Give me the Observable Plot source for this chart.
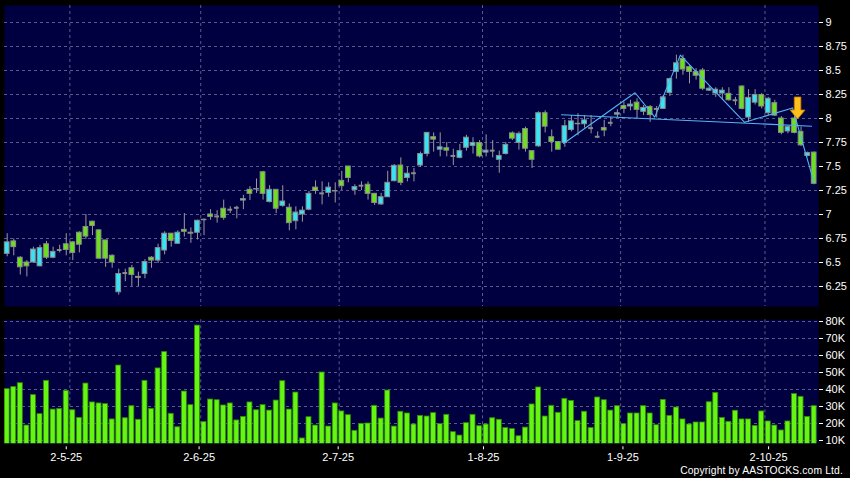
<!DOCTYPE html>
<html><head><meta charset="utf-8">
<script src="https://cdn.jsdelivr.net/npm/d3@7"></script>
<script src="https://cdn.jsdelivr.net/npm/@observablehq/plot@0.6"></script>
<style>
html,body{margin:0;padding:0;background:#000;}
#chart{position:relative;width:850px;height:478px;background:#000;overflow:hidden;font-family:"Liberation Sans",Arial,sans-serif;}
#chart svg{position:absolute;left:0;}
#copy{position:absolute;right:7px;top:465px;color:#fff;font-size:10.3px;letter-spacing:0.15px;white-space:nowrap;}
</style></head><body><div id="chart"><div id="copy">Copyright by AASTOCKS.com Ltd.</div></div>
<script>
// ---- data (index = trading day) ----
const open  = [6.59,6.72,6.55,6.50,6.50,6.46,6.69,6.55,6.63,6.69,6.71,6.81,6.87,6.925,6.835,6.73,6.57,6.19,6.39,6.44,
6.34,6.38,6.55,6.52,6.625,6.80,6.695,6.84,6.80,6.81,6.94,7.00,6.98,7.06,7.05,7.07,7.145,7.257,7.26,7.44,
7.13,7.257,7.09,7.07,6.93,7.00,7.05,7.28,7.22,7.225,7.24,7.35,7.50,7.255,7.30,7.31,7.215,7.105,7.18,7.347,
7.51,7.38,7.43,7.51,7.63,7.805,7.675,7.69,7.61,7.59,7.695,7.715,7.745,7.645,7.665,7.57,7.63,7.845,7.745,7.89,
7.66,7.71,8.055,7.805,7.755,7.745,7.88,7.94,7.94,7.90,7.81,7.90,7.955,8.04,8.13,8.125,8.165,8.07,8.12,8.10,
8.10,8.265,8.485,8.62,8.535,8.483,8.50,8.29,8.26,8.26,8.257,8.19,8.333,8.01,8.165,8.245,8.055,8.16,8.00,7.865,
8.00,7.86,7.61,7.645];
const high  = [6.80,6.745,6.56,6.52,6.66,6.68,6.72,6.66,6.68,6.80,6.72,6.82,7.00,6.93,6.84,6.73,6.58,6.43,6.43,6.47,
6.40,6.53,6.56,6.69,6.82,6.80,6.83,7.01,6.86,6.94,6.955,7.05,7.04,7.15,7.08,7.085,7.20,7.29,7.37,7.45,
7.30,7.26,7.30,7.11,7.08,7.08,7.24,7.35,7.34,7.33,7.33,7.45,7.50,7.31,7.34,7.34,7.22,7.22,7.45,7.52,
7.59,7.49,7.48,7.65,7.855,7.85,7.85,7.75,7.68,7.73,7.825,7.80,7.77,7.83,7.77,7.66,7.75,7.86,7.86,7.91,
7.66,8.07,8.08,7.88,7.76,7.98,8.03,8.05,8.03,8.03,7.86,7.98,8.01,8.09,8.17,8.19,8.205,8.135,8.135,8.125,
8.24,8.42,8.66,8.66,8.55,8.52,8.52,8.33,8.32,8.32,8.32,8.22,8.34,8.30,8.30,8.26,8.22,8.19,8.02,7.92,
8.03,7.91,7.65,7.65];
const low   = [6.56,6.57,6.37,6.35,6.49,6.455,6.53,6.54,6.60,6.57,6.52,6.60,6.74,6.78,6.53,6.45,6.44,6.16,6.30,6.25,
6.25,6.33,6.44,6.49,6.58,6.66,6.69,6.765,6.70,6.735,6.78,6.94,6.91,6.94,7.01,6.955,7.05,7.146,7.22,7.15,
7.12,7.01,7.075,6.83,6.84,6.92,7.04,7.21,7.10,7.18,7.12,7.25,7.33,7.20,7.25,7.15,7.095,7.095,7.18,7.34,
7.30,7.34,7.34,7.49,7.60,7.65,7.60,7.60,7.51,7.58,7.66,7.63,7.59,7.60,7.59,7.43,7.62,7.77,7.67,7.65,
7.48,7.70,7.85,7.65,7.67,7.70,7.86,7.82,7.90,7.84,7.79,7.81,7.915,8.01,8.05,8.08,8.00,8.03,7.96,8.005,
8.10,8.23,8.41,8.45,8.36,8.40,8.29,8.28,8.22,8.19,8.18,8.135,8.09,7.96,8.14,8.10,8.03,8.02,7.83,7.84,
7.84,7.71,7.60,7.31];
const close = [6.71,6.66,6.45,6.46,6.635,6.65,6.55,6.61,6.63,6.63,6.60,6.685,6.77,6.88,6.54,6.54,6.50,6.38,6.39,6.37,
6.35,6.505,6.52,6.65,6.80,6.725,6.81,6.82,6.81,6.935,6.945,6.975,6.98,6.965,7.05,7.07,7.16,7.215,7.265,7.215,
7.257,7.06,7.135,6.91,7.02,7.04,7.215,7.245,7.22,7.28,7.245,7.295,7.38,7.285,7.30,7.215,7.12,7.18,7.33,7.507,
7.33,7.425,7.43,7.63,7.85,7.78,7.70,7.665,7.61,7.66,7.80,7.745,7.605,7.665,7.665,7.61,7.725,7.79,7.84,7.685,
7.57,8.055,7.915,7.755,7.675,7.92,7.97,7.945,7.98,7.90,7.81,7.875,7.955,8.055,8.10,8.145,8.09,8.11,8.035,8.10,
8.22,8.41,8.575,8.51,8.485,8.445,8.31,8.31,8.30,8.29,8.19,8.19,8.10,8.215,8.245,8.125,8.205,8.03,7.85,7.91,
7.85,7.72,7.64,7.32];
const volumeK = [40.2,41.4,43.7,18.8,36.7,25.5,45.1,28.2,28.6,39.2,27.8,23.3,43.5,32.4,31.8,31.4,22.4,54.1,23.1,30.2,
22.2,45.1,28.6,52.4,62.0,25.7,17.8,38.8,30.8,77.6,20.8,34.1,33.7,30.6,31.8,21.8,23.9,32.4,27.8,30.8,
27.6,33.5,44.9,28.2,38.2,11.2,23.7,18.8,50.0,18.2,31.8,27.1,24.9,15.7,19.8,20.0,30.4,22.9,39.4,18.2,
26.9,25.9,19.4,24.5,24.1,26.1,19.6,25.1,14.9,12.9,20.2,25.1,18.4,19.4,23.1,22.2,17.3,16.7,12.5,17.6,
31.2,41.2,24.1,30.4,26.3,34.5,33.3,21.4,26.9,17.3,35.3,33.7,27.6,30.2,19.6,25.9,25.9,30.2,25.9,19.0,
33.9,24.5,29.4,22.4,19.4,20.6,20.6,32.5,38.0,23.3,21.0,27.5,22.4,22.4,18.6,27.1,21.2,18.8,15.9,21.2,
37.3,35.7,23.9,30.2];

const priceTicks  = [6.25,6.5,6.75,7,7.25,7.5,7.75,8,8.25,8.5,8.75,9];
const priceLabels = ["6.25","6.5","6.75","7","7.25","7.5","7.75","8","8.25","8.5","8.75","9"];
const volTicks    = [10,20,30,40,50,60,70,80];
const volLabels   = ["10K","20K","30K","40K","50K","60K","70K","80K"];
const dateLabels  = ["2-5-25","2-6-25","2-7-25","1-8-25","1-9-25","2-10-25"];
const dateLabelIdx= [9, 29.25, 50.45, 72.6, 93.85, 116.05];
const dateGridIdx = [9.55, 29.5, 50.6, 72.45, 93.5, 115.5];

// pattern lines drawn on the chart (index, price)
const zigzagIdx   = [84.8, 95.7, 98.7, 102.6, 112.4, 119.7, 123.0];
const zigzagPrice = [7.74, 8.268, 8.014, 8.66, 7.96, 8.11, 7.33];
const neckIdx     = [84.5, 122.6];
const neckPrice   = [8.039, 7.92];
const signalIdx   = [120.47];
const signalPrice = [8.104];

// ---- build ----
const data = d3.range(open.length).map(i => ({i, o: open[i], h: high[i], l: low[i], c: close[i], v: volumeK[i]}));
const doji = data.filter(d => Math.abs(d.o - d.c) < 0.004);
const bodies = data.filter(d => Math.abs(d.o - d.c) >= 0.004);
const zig = zigzagIdx.map((x, k) => ({x, y: zigzagPrice[k]}));
const neck = neckIdx.map((x, k) => ({x, y: neckPrice[k]}));
const sig = signalIdx.map((x, k) => ({x, y: signalPrice[k]}));

const NAVY = "#000040", GRID = "#5a5a8c", UP = "#38e4f4", DOWN = "#6be01c", OUTLINE = "#8c8c8c", WICK = "#9a9a9a", TREND = "#55b4f2";
const xDomain = [-0.41, 123.66];
const font = {background: "transparent", color: "#fff", fontFamily: "'Liberation Sans', Arial, sans-serif", fontSize: "11px", overflow: "visible"};

const arrow = {draw(ctx) {
  ctx.moveTo(-3.3, -11.5); ctx.lineTo(3.3, -11.5); ctx.lineTo(3.3, 1.5); ctx.lineTo(7.5, 1.5);
  ctx.lineTo(0, 10.5); ctx.lineTo(-7.5, 1.5); ctx.lineTo(-3.3, 1.5); ctx.closePath();
}};

const price = Plot.plot({
  width: 850, height: 310, marginTop: 5, marginBottom: 4, marginLeft: 4, marginRight: 32,
  style: font,
  x: {type: "linear", domain: xDomain, axis: null},
  y: {domain: [6.0417, 9.177], axis: null},
  marks: [
    Plot.frame({fill: NAVY}),
    Plot.ruleY(priceTicks, {stroke: GRID, strokeDasharray: "3,3"}),
    Plot.ruleX(dateGridIdx, {stroke: GRID, strokeDasharray: "3,3"}),
    Plot.axisY(priceTicks, {anchor: "right", tickSize: 4, tickPadding: 3, fontSize: 11,
      tickFormat: d => priceLabels[priceTicks.indexOf(d)], label: null}),
    Plot.ruleX(data, {x: "i", y1: "l", y2: "h", stroke: WICK, strokeWidth: 1}),
    Plot.rect(bodies, {x1: d => d.i - 0.36, x2: d => d.i + 0.36, y1: "o", y2: "c",
      fill: d => d.c > d.o ? UP : DOWN, stroke: OUTLINE, strokeWidth: 1}),
    Plot.ruleY(doji, {y: "c", x1: d => d.i - 0.36, x2: d => d.i + 0.36, stroke: OUTLINE, strokeWidth: 2}),
    Plot.line(zig, {x: "x", y: "y", stroke: TREND, strokeWidth: 1.1}),
    Plot.line(neck, {x: "x", y: "y", stroke: TREND, strokeWidth: 1.1}),
    Plot.dot(sig, {x: "x", y: "y", symbol: arrow, r: 5, fill: "#ffbf1a", stroke: "#c77a00", strokeWidth: 0.8})
  ]
});
price.style.top = "0px";

const vol = Plot.plot({
  width: 850, height: 168, marginTop: 9.3, marginBottom: 34.7, marginLeft: 4, marginRight: 32,
  style: font,
  x: {type: "linear", domain: xDomain, axis: null},
  y: {domain: [8.06, 81], axis: null},
  marks: [
    Plot.frame({fill: NAVY}),
    Plot.ruleY(volTicks, {stroke: GRID, strokeDasharray: "3,3"}),
    Plot.ruleX(dateGridIdx, {stroke: GRID, strokeDasharray: "3,3"}),
    Plot.rectY(data, {x1: d => d.i - 0.38, x2: d => d.i + 0.38, y: "v", fill: "#66f413", stroke: "#2e8a08", strokeWidth: 0.8, clip: true}),
    Plot.axisY(volTicks, {anchor: "right", tickSize: 4, tickPadding: 3, fontSize: 11,
      tickFormat: d => volLabels[volTicks.indexOf(d)], label: null}),
    Plot.axisX(dateLabelIdx, {anchor: "bottom", tickSize: 3, tickPadding: 3, dy: 3, fontSize: 11,
      tickFormat: d => dateLabels[dateLabelIdx.indexOf(d)], label: null})
  ]
});
vol.style.top = "310px";

const chart = document.getElementById("chart");
chart.appendChild(price);
chart.appendChild(vol);
</script>
</body></html>
